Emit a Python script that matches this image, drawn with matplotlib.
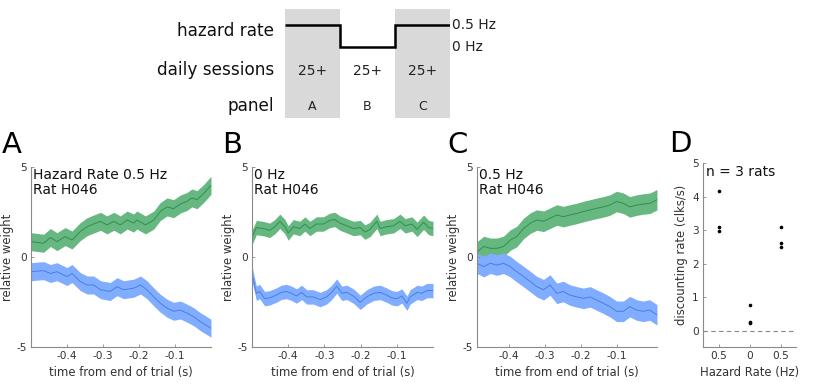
import matplotlib
matplotlib.use("Agg")
import matplotlib.pyplot as plt
import matplotlib.transforms as mtrans
import numpy as np

plt.rcParams['font.family'] = ['DejaVu Sans']

W, H = 830, 389

# ---------------- data ----------------
# schematic
hazard_rates = [0.5, 0.0, 0.5]
sessions = ["25+", "25+", "25+"]
panel_names = ["A", "B", "C"]

# Panel A
tA_g = [-0.500, -0.465, -0.446, -0.428, -0.405, -0.386, -0.363, -0.344, -0.326, -0.307,
        -0.289, -0.270, -0.252, -0.233, -0.215, -0.206, -0.182, -0.159, -0.141, -0.122,
        -0.104, -0.085, -0.067, -0.053, -0.039, -0.020, 0.000]
wA_g = [0.87, 0.78, 1.1, 0.87, 1.15, 0.96, 1.43, 1.7, 1.85, 2.0, 1.8, 2.0, 1.8, 2.07, 1.9,
        2.07, 1.8, 2.07, 2.54, 2.8, 2.7, 2.96, 3.1, 3.3, 3.2, 3.55, 4.0]
tA_b = [-0.500, -0.465, -0.446, -0.428, -0.400, -0.386, -0.363, -0.344, -0.326, -0.307,
        -0.280, -0.261, -0.243, -0.215, -0.196, -0.178, -0.159, -0.141, -0.122, -0.104,
        -0.085, -0.067, -0.048, -0.030, 0.000]
wA_b = [-0.8, -0.74, -0.9, -0.8, -1.07, -0.9, -1.35, -1.54, -1.54, -1.8, -1.9, -1.63, -1.8,
        -1.72, -1.54, -1.8, -2.2, -2.55, -2.83, -3.0, -2.93, -3.1, -3.3, -3.57, -3.94]
semA = 0.5

# Panel B
tB_g = [-0.500, -0.488, -0.470, -0.451, -0.437, -0.423, -0.409, -0.400, -0.386, -0.368,
        -0.354, -0.340, -0.322, -0.303, -0.285, -0.271, -0.257, -0.238, -0.220, -0.201,
        -0.188, -0.174, -0.155, -0.146, -0.128, -0.109, -0.091, -0.077, -0.058, -0.044,
        -0.026, -0.012, 0.000]
wB_g = [1.1, 1.65, 1.6, 1.5, 1.7, 2.0, 1.7, 1.35, 1.7, 1.6, 1.85, 1.6, 1.85, 1.85, 2.05, 2.1,
        1.9, 1.75, 1.6, 1.65, 1.4, 1.55, 2.0, 1.6, 1.7, 1.75, 2.0, 1.75, 1.85, 1.55, 1.95,
        1.65, 1.6]
tB_b = [-0.500, -0.488, -0.479, -0.465, -0.451, -0.433, -0.419, -0.405, -0.391, -0.377,
        -0.363, -0.349, -0.331, -0.312, -0.294, -0.280, -0.266, -0.252, -0.238, -0.220,
        -0.201, -0.183, -0.164, -0.146, -0.128, -0.114, -0.100, -0.086, -0.072, -0.063,
        -0.044, -0.031, -0.017, 0.000]
wB_b = [-0.9, -2.0, -1.9, -2.3, -2.25, -2.1, -1.95, -1.9, -2.0, -2.15, -1.95, -2.2, -2.2,
        -2.35, -2.2, -1.95, -1.6, -2.0, -1.95, -2.15, -2.5, -2.2, -2.0, -1.95, -2.1, -2.25,
        -2.3, -2.15, -2.55, -2.2, -1.95, -2.0, -1.85, -1.85]
semB = 0.4

# Panel C
tC = [-0.490, -0.471, -0.453, -0.434, -0.416, -0.397, -0.379, -0.360, -0.341, -0.323,
      -0.304, -0.286, -0.267, -0.249, -0.230, -0.211, -0.193, -0.174, -0.156, -0.137,
      -0.119, -0.100, -0.081, -0.063, -0.044, -0.026, -0.007, 0.013]
wC_g = [0.3, 0.6, 0.5, 0.5, 0.6, 0.96, 1.15, 1.6, 1.9, 2.07, 2.0, 2.17, 2.35, 2.26, 2.35,
        2.44, 2.54, 2.63, 2.72, 2.8, 2.9, 3.1, 3.0, 2.8, 2.9, 2.96, 3.0, 3.2]
wC_b = [-0.33, -0.52, -0.33, -0.43, -0.33, -0.52, -0.8, -1.07, -1.35, -1.63, -1.8, -1.54,
        -2.0, -1.9, -2.1, -2.2, -2.28, -2.2, -2.37, -2.55, -2.74, -3.0, -3.0, -2.74, -2.93,
        -3.0, -2.93, -3.2]
semC = 0.57

# Panel D
d_labels = ["0.5", "0", "0.5"]
d_rates = [[4.17, 3.11, 2.97], [0.77, 0.27, 0.24], [3.11, 2.61, 2.49]]

# ---------------- style ----------------
GREEN_FILL = '#66b880'
GREEN_LINE = '#2f8f52'
BLUE_FILL = '#80adff'
BLUE_LINE = '#4a7fe0'
SPINE = '#8a8a8a'
TICKC = '#333333'

fig = plt.figure(figsize=(W / 100, H / 100), dpi=100)


def rect(x0, y0, x1, y1):
    return [x0 / W, 1 - y1 / H, (x1 - x0) / W, (y1 - y0) / H]


def style_axes(ax):
    for s in ['top', 'right']:
        ax.spines[s].set_visible(False)
    for s in ['left', 'bottom']:
        ax.spines[s].set_color(SPINE)
        ax.spines[s].set_linewidth(0.8)
    ax.tick_params(direction='in', length=2.5, width=0.6, color=SPINE,
                   labelsize=7.6, labelcolor=TICKC, pad=3)


def weight_panel(ax, tg, wg, tb, wb, sem, xlim, letter, text):
    tg = np.asarray(tg); wg = np.asarray(wg)
    tb = np.asarray(tb); wb = np.asarray(wb)
    ax.fill_between(tg, wg - sem, wg + sem, color=GREEN_FILL, lw=0)
    ax.plot(tg, wg, color=GREEN_LINE, lw=0.7)
    ax.fill_between(tb, wb - sem, wb + sem, color=BLUE_FILL, lw=0)
    ax.plot(tb, wb, color=BLUE_LINE, lw=0.7)
    ax.set_xlim(*xlim)
    ax.set_ylim(-5, 5)
    ax.set_yticks([-5, 0, 5])
    ax.set_xticks([-0.4, -0.3, -0.2, -0.1])
    ax.set_xticklabels(['-0.4', '-0.3', '-0.2', '-0.1'])
    ax.set_yticklabels(['-5', '0', '5'])
    style_axes(ax)
    ax.set_xlabel('time from end of trial (s)', fontsize=8.4, color=TICKC, labelpad=3)
    ax.set_ylabel('relative weight', fontsize=8.4, color=TICKC, labelpad=2)
    ax.text(0.012, 0.995, text, transform=ax.transAxes, ha='left', va='top',
            fontsize=10, color='#111111', linespacing=1.1)
    ax.text(-0.165, 1.045, letter, transform=ax.transAxes, ha='left', va='bottom',
            fontsize=21, color='black')


axA = fig.add_axes(rect(31, 167.3, 211, 347.3))
weight_panel(axA, tA_g, wA_g, tA_b, wA_b, semA, (-0.5, 0.0), 'A',
             'Hazard Rate 0.5 Hz\nRat H046')
axB = fig.add_axes(rect(252, 167.3, 433, 347.3))
weight_panel(axB, tB_g, wB_g, tB_b, wB_b, semB, (-0.5, 0.0), 'B', '0 Hz\nRat H046')
axC = fig.add_axes(rect(477, 167.3, 657, 347.3))
weight_panel(axC, tC, wC_g, tC, wC_b, semC, (-0.49, 0.013), 'C', '0.5 Hz\nRat H046')

# Panel D
axD = fig.add_axes(rect(703, 163.3, 796, 347.3))
for i, vals in enumerate(d_rates):
    axD.plot([i + 1] * len(vals), vals, 'o', color='black', ms=2.6, mew=0)
axD.axhline(0, color='#888888', lw=0.8, ls=(0, (4, 3)))
axD.set_xlim(0.5, 3.5)
axD.set_ylim(-0.5, 5)
axD.set_yticks([0, 1, 2, 3, 4, 5])
axD.set_xticks([1, 2, 3])
axD.set_xticklabels(d_labels)
style_axes(axD)
axD.set_xlabel('Hazard Rate (Hz)', fontsize=8.4, color=TICKC, labelpad=3)
axD.set_ylabel('discounting rate (clks/s)', fontsize=8.4, color=TICKC, labelpad=3)
axD.text(0.03, 0.99, 'n = 3 rats', transform=axD.transAxes, ha='left', va='top',
         fontsize=10, color='#111111')
axD.text(-0.36, 1.03, 'D', transform=axD.transAxes, ha='left', va='bottom',
         fontsize=21, color='black')

# ---------------- schematic ----------------
axs = fig.add_axes(rect(285, 9.3, 450, 118))
axs.set_xlim(0, 3)
pxu = 22.3 / 0.5
axs.set_ylim(0 - (118 - 47.3) / pxu, 0.5 + (25 - 9.3) / pxu)
axs.axis('off')
for i in range(len(hazard_rates)):
    if i % 2 == 0:
        axs.axvspan(i, i + 1, color='#d9d9d9', lw=0)
edges = np.arange(len(hazard_rates) + 1)
axs.stairs(hazard_rates, edges, baseline=None, color='black', lw=1.8)
blend = mtrans.blended_transform_factory(axs.transData, fig.transFigure)
for i, (s, p) in enumerate(zip(sessions, panel_names)):
    axs.text(i + 0.5, 1 - 71 / H, s, transform=blend, ha='center', va='center',
             fontsize=10, color='#222222')
    axs.text(i + 0.5, 1 - 106 / H, p, transform=blend, ha='center', va='center',
             fontsize=9, color='#222222')
axs.text(3.035, max(hazard_rates), '0.5 Hz', ha='left', va='center', fontsize=10,
         color='#222222')
axs.text(3.035, min(hazard_rates), '0 Hz', ha='left', va='center', fontsize=10,
         color='#222222')
for label, yy in [('hazard rate', 31.5), ('daily sessions', 70), ('panel', 106)]:
    fig.text(274 / W, 1 - yy / H, label, ha='right', va='center', fontsize=12.2,
             color='#111111')

fig.savefig('out.png', dpi=100)
